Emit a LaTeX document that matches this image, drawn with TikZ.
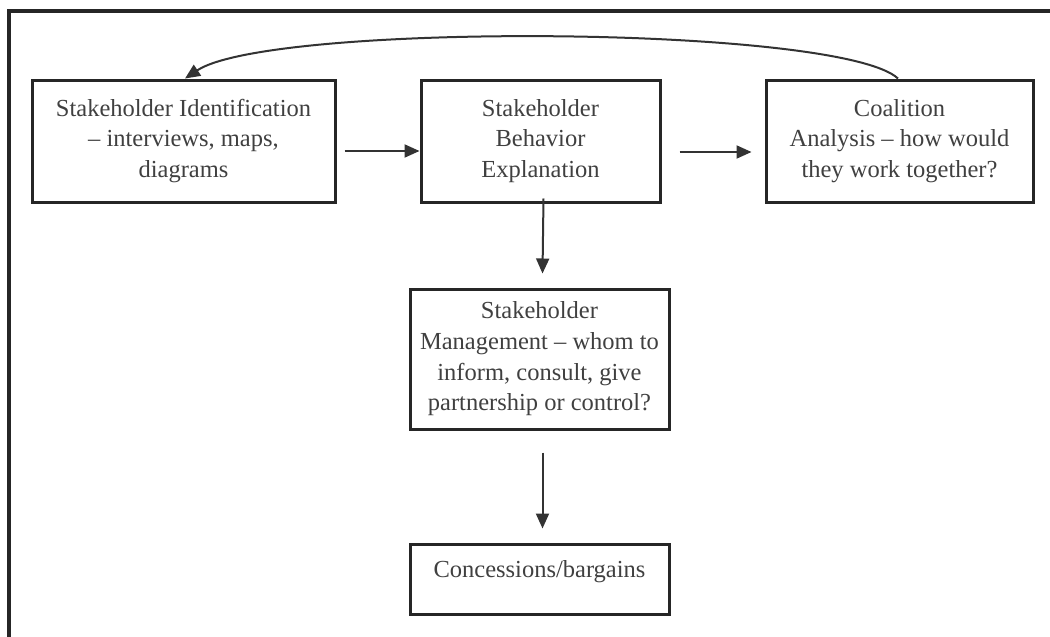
\documentclass[tikz,border=0pt]{standalone}
\usepackage{fontspec}
\setmainfont{Liberation Serif}
\usetikzlibrary{arrows.meta,calc}
\begin{document}
\begin{tikzpicture}[x=1pt,y=-1pt,
  stagebox/.style={draw=black!85, line width=3pt, align=center, text=black!75,
    font=\fontsize{24.5}{30.7}\selectfont, inner sep=0pt},
  flow/.style={draw=black!80, line width=2pt, -{Triangle[length=15pt,width=13pt]}}]
  \useasboundingbox (0,0) rectangle (1050,637);
  % open frame: top and left sides only
  \draw[line width=4pt, black!85] (9,637) -- (9,11) -- (1050,11);

  \node[stagebox, minimum width=303pt, minimum height=122pt] (ident) at (183.5,141)
    {Stakeholder Identification\\ -- interviews, maps,\\ diagrams};
  \node[stagebox, minimum width=239pt, minimum height=122pt] (behav) at (540.5,141)
    {Stakeholder\\ Behavior\\ Explanation};
  \node[stagebox, minimum width=267pt, minimum height=122pt] (coal) at (899.5,141)
    {Coalition\\ Analysis -- how would\\ they work together?};
  \node[stagebox, minimum width=259pt, minimum height=140pt] (manage) at (539.5,359)
    {Stakeholder\\ Management -- whom to\\ inform, consult, give\\ partnership or control?};
  \node[stagebox, minimum width=259pt, minimum height=70pt, text height=16pt, text depth=20pt]
    (conc) at (539.5,579) {Concessions/bargains};

  \draw[flow] ($(ident.east)+(8,10)$) -- ($(behav.west)+(0,10)$);
  \draw[flow] ($(behav.east)+(18,11)$) -- ($(coal.west)+(-13,11)$);
  \draw[flow] ($(behav.south)+(3,-5)$) -- ($(manage.north)+(3,-14)$);
  \draw[flow] ($(manage.south)+(3,22)$) -- ($(conc.north)+(3,-14)$);

  % feedback from coalition analysis back to identification
  \draw[flow] ($(coal.north)+(-1.5,0)$) .. controls (840,25) and (270,22) .. ($(ident.north)+(1.5,0)$);
\end{tikzpicture}
\end{document}
